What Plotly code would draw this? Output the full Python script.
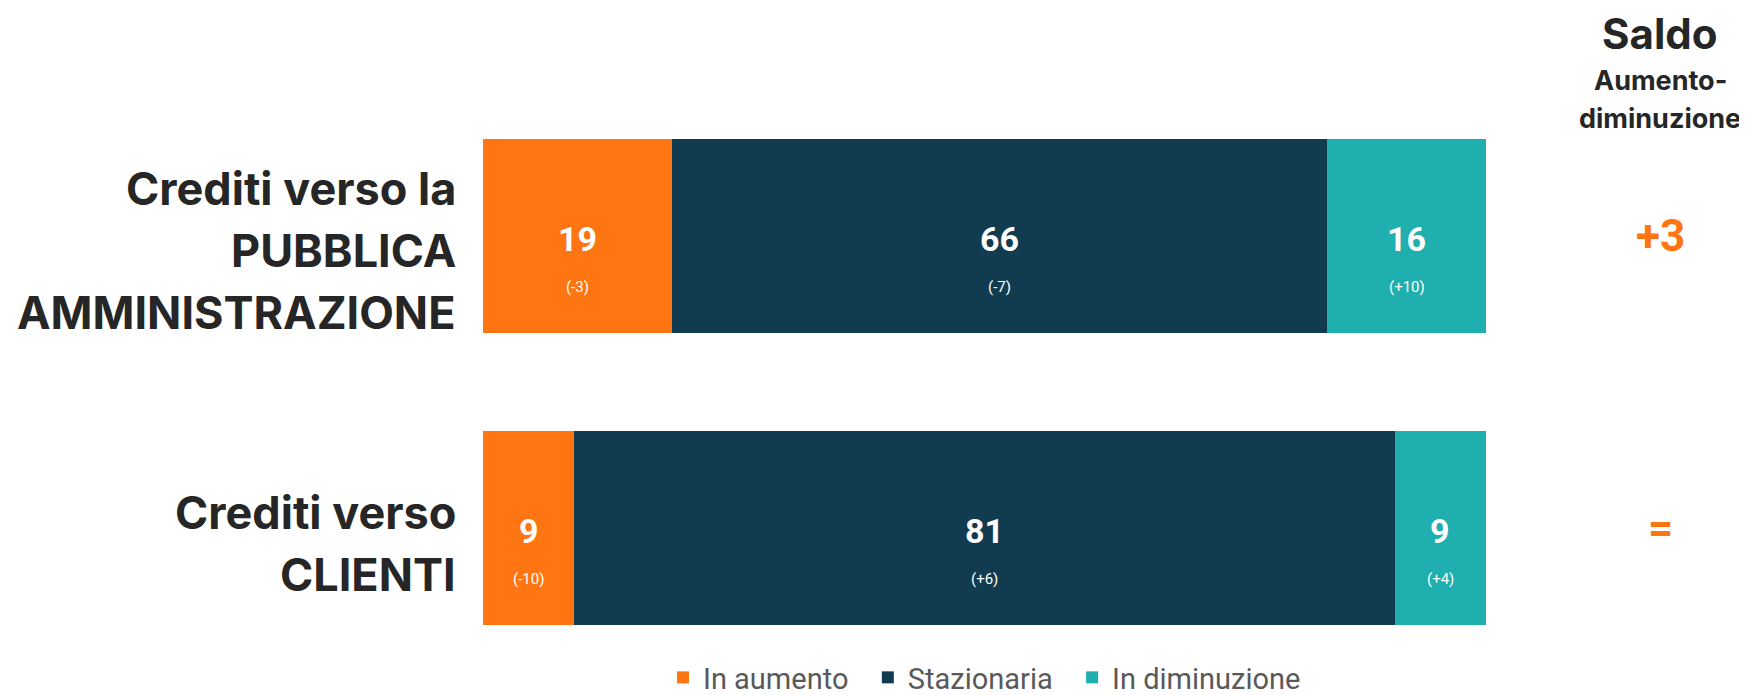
import plotly.graph_objects as go

## Data
categories = ["Crediti verso la<br>PUBBLICA<br>AMMINISTRAZIONE", "Crediti verso<br>CLIENTI"]
series_names = ["In aumento", "Stazionaria", "In diminuzione"]
in_aumento = [19, 9]
stazionaria = [66, 81]
in_diminuzione = [16, 9]
var_in_aumento = ["(-3)", "(-10)"]
var_stazionaria = ["(-7)", "(+6)"]
var_in_diminuzione = ["(+10)", "(+4)"]
saldo = ["+3", "="]

colors = ["#FF7511", "#113B4F", "#1EAFAE"]
series = [in_aumento, stazionaria, in_diminuzione]
variations = [var_in_aumento, var_stazionaria, var_in_diminuzione]

# the page puts the figure 8px in from the top-left, so targets are shifted back by that
OFF = 8
H = 695

fig = go.Figure()
for k, (name, vals, col) in enumerate(zip(series_names, series, colors)):
    # a little padding after the legend text, except for the last entry
    pad = "\u00a0\u00a0" if k < len(series_names) - 1 else ""
    fig.add_trace(go.Bar(
        y=categories, x=vals, name=name + pad, orientation="h",
        marker=dict(color=col, line=dict(width=0)),
        width=0.663, hoverinfo="skip",
    ))

annotations = []
num_font = dict(family="Roboto", size=34, color="white")
sub_font = dict(family="Roboto", size=15, color="white")

## value labels, centred in each (normalised) segment
for i, cat in enumerate(categories):
    total = sum(s[i] for s in series)
    cum = 0
    for vals, var in zip(series, variations):
        pct = vals[i] / total * 100
        mid = cum + pct / 2
        cum += pct
        annotations.append(dict(x=mid, y=cat, xref="x", yref="y", text="<b>%d</b>" % vals[i],
                                showarrow=False, font=num_font, yshift=-3))
        annotations.append(dict(x=mid, y=cat, xref="x", yref="y", text=var[i],
                                showarrow=False, font=sub_font, yshift=-51))

## category labels on the left, one annotation per line
label_font = dict(family="Inter", size=45, color="#262626")
for cat in categories:
    lines = cat.split("<br>")
    n = len(lines)
    for j, line in enumerate(lines):
        annotations.append(dict(x=-0.025, y=cat, xref="paper", yref="y", xanchor="right",
                                text="<b>%s</b>" % line, showarrow=False, font=label_font,
                                yshift=-((j - (n - 1) / 2) * 62 + 15)))

## saldo column
saldo_x = 1.1735
head = [("<b>Saldo</b>", 33, 42), ("<b>Aumento-</b>", 81, 27), ("<b>diminuzione</b>", 118, 27)]
for txt, ypx, size in head:
    annotations.append(dict(x=saldo_x, y=1 - (ypx - OFF) / H, xref="paper", yref="paper",
                            xanchor="center", yanchor="middle", text=txt, showarrow=False,
                            font=dict(family="Inter", size=size, color="#262626")))
for cat, s in zip(categories, saldo):
    annotations.append(dict(x=saldo_x, y=cat, xref="paper", yref="y", xanchor="center",
                            text="<b>%s</b>" % s, showarrow=False,
                            font=dict(family="Roboto", size=44, color="#FF7511")))

fig.update_layout(
    barmode="stack", barnorm="percent",
    width=1747, height=H,
    margin=dict(l=483 - OFF, r=261 + OFF, t=0, b=0),
    plot_bgcolor="white", paper_bgcolor="white",
    xaxis=dict(range=[0, 100], visible=False, fixedrange=True),
    yaxis=dict(range=[1.597, -0.779], visible=False, fixedrange=True),
    showlegend=True,
    legend=dict(orientation="h", x=0.5, xanchor="center", y=0, yanchor="bottom",
                font=dict(family="Roboto", size=29, color="#595959"), traceorder="normal",
                itemclick=False, itemdoubleclick=False),
    annotations=annotations,
)

fig.write_html("out.html")
